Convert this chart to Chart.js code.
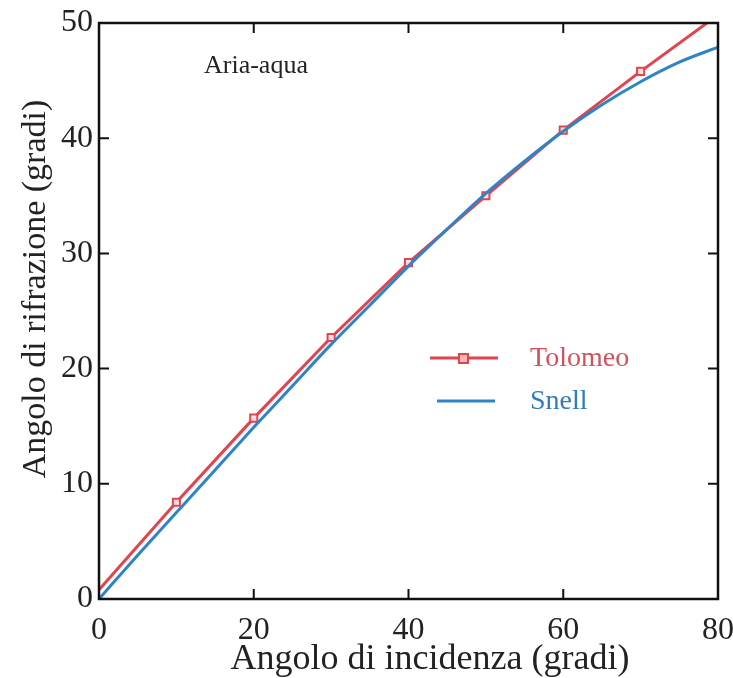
<!DOCTYPE html>
<html>
<head>
<meta charset="utf-8">
<script src="https://cdn.jsdelivr.net/npm/chart.js@4.4.1/dist/chart.umd.min.js"></script>
<style>
  html, body { margin: 0; padding: 0; background: #fff; }
  #wrap { width: 733px; height: 678px; }
</style>
</head>
<body>
<div id="wrap"><canvas id="grafik" width="733" height="678"></canvas></div>
<script>
// Tolomeo (Ptolemy) table, air-water
var tolomeoX = [0, 10, 20, 30, 40, 50, 60, 70, 80];
var tolomeoY = [0.8, 8.4, 15.7, 22.7, 29.2, 35.0, 40.7, 45.8, 50.7];
var tolomeoMarker = [0, 5, 5, 5, 5, 5, 5, 5, 0];

// Snell curve
var snellX = [0, 5, 10, 15, 20, 25, 30, 35, 40, 45, 50, 55, 60, 65, 70, 75, 80];
var snellY = [0, 3.8, 7.5, 11.2, 14.9, 18.5, 22.1, 25.5, 28.9, 32.1, 35.2, 38.0, 40.6, 42.9, 44.9, 46.6, 47.9];

var xTicks = [0, 20, 40, 60, 80];
var yTicks = [0, 10, 20, 30, 40, 50];

var titoloX = 'Angolo di incidenza (gradi)';
var titoloY = 'Angolo di rifrazione (gradi)';
var nota = 'Aria-aqua';

var rosso = '#e2444e';
var blu = '#2f84c6';
var serif = '"Liberation Serif", "Times New Roman", serif';

function punti(xs, ys) {
  return xs.map(function(x, i) { return { x: x, y: ys[i] }; });
}

// box, inward ticks, titles, legend
var cornice = {
  id: 'cornice',
  afterDraw: function(chart) {
    var ctx = chart.ctx;
    var a = chart.chartArea;
    var sx = chart.scales.x, sy = chart.scales.y;
    ctx.save();
    ctx.strokeStyle = '#111';
    ctx.lineWidth = 2.5;
    ctx.strokeRect(a.left, a.top, a.right - a.left, a.bottom - a.top);
    ctx.lineWidth = 2;
    ctx.beginPath();
    xTicks.forEach(function(v) {
      var px = sx.getPixelForValue(v);
      ctx.moveTo(px, a.bottom); ctx.lineTo(px, a.bottom - 10);
      ctx.moveTo(px, a.top); ctx.lineTo(px, a.top + 10);
    });
    yTicks.forEach(function(v) {
      var py = sy.getPixelForValue(v);
      ctx.moveTo(a.left, py); ctx.lineTo(a.left + 10, py);
      ctx.moveTo(a.right, py); ctx.lineTo(a.right - 10, py);
    });
    ctx.stroke();

    // axis titles
    ctx.fillStyle = '#222';
    ctx.textAlign = 'center';
    ctx.textBaseline = 'middle';
    ctx.font = '36px ' + serif;
    ctx.fillText(titoloX, 430, 660);
    ctx.save();
    ctx.translate(36, 289);
    ctx.rotate(-Math.PI / 2);
    ctx.font = '34px ' + serif;
    ctx.fillText(titoloY, 0, 0);
    ctx.restore();

    // note
    ctx.textAlign = 'left';
    ctx.textBaseline = 'alphabetic';
    ctx.font = '26px ' + serif;
    ctx.fillText(nota, 204, 73);

    // legend
    var ds = chart.data.datasets;
    ctx.lineWidth = 3;
    ctx.strokeStyle = rosso;
    ctx.beginPath(); ctx.moveTo(430, 358); ctx.lineTo(498, 358); ctx.stroke();
    ctx.lineWidth = 2;
    ctx.fillStyle = '#f5b8b8';
    ctx.fillRect(459, 354, 9, 9);
    ctx.strokeRect(459, 354, 9, 9);
    ctx.strokeStyle = blu;
    ctx.lineWidth = 3;
    ctx.beginPath(); ctx.moveTo(437, 401); ctx.lineTo(495, 401); ctx.stroke();
    ctx.font = '28px ' + serif;
    ctx.fillStyle = '#d4505a';
    ctx.fillText(ds[1].label, 530, 366);
    ctx.fillStyle = '#2f7cbb';
    ctx.fillText(ds[0].label, 530, 409);
    ctx.restore();
  }
};

new Chart(document.getElementById('grafik').getContext('2d'), {
  type: 'line',
  data: {
    datasets: [
      {
        label: 'Snell',
        data: punti(snellX, snellY),
        borderColor: blu,
        borderWidth: 3,
        pointRadius: 0,
        cubicInterpolationMode: 'monotone',
        order: 0,
        clip: 0
      },
      {
        label: 'Tolomeo',
        data: punti(tolomeoX, tolomeoY),
        borderColor: rosso,
        borderWidth: 3,
        pointStyle: 'rect',
        pointRadius: tolomeoMarker,
        pointBorderColor: rosso,
        pointBorderWidth: 2,
        pointBackgroundColor: 'rgba(255,235,235,0.9)',
        tension: 0,
        order: 1,
        clip: 0
      }
    ]
  },
  options: {
    responsive: false,
    animation: false,
    layout: { padding: { left: 0, top: 23, right: 15, bottom: 0 } },
    plugins: {
      legend: { display: false },
      tooltip: { enabled: false }
    },
    scales: {
      x: {
        type: 'linear',
        min: 0,
        max: 80,
        afterFit: function(s) { s.height = 79; s.paddingLeft = 0; s.paddingRight = 0; },
        afterBuildTicks: function(s) { s.ticks = xTicks.map(function(v) { return { value: v }; }); },
        grid: { display: false, drawTicks: false },
        border: { display: false },
        ticks: { color: '#222', padding: 12, font: { family: serif, size: 32 } }
      },
      y: {
        type: 'linear',
        min: 0,
        max: 50,
        afterFit: function(s) { s.width = 99; s.paddingTop = 0; s.paddingBottom = 0; },
        afterBuildTicks: function(s) { s.ticks = yTicks.map(function(v) { return { value: v }; }); },
        grid: { display: false, drawTicks: false },
        border: { display: false },
        ticks: { color: '#222', padding: 6, font: { family: serif, size: 32 } }
      }
    }
  },
  plugins: [cornice]
});
</script>
</body>
</html>
